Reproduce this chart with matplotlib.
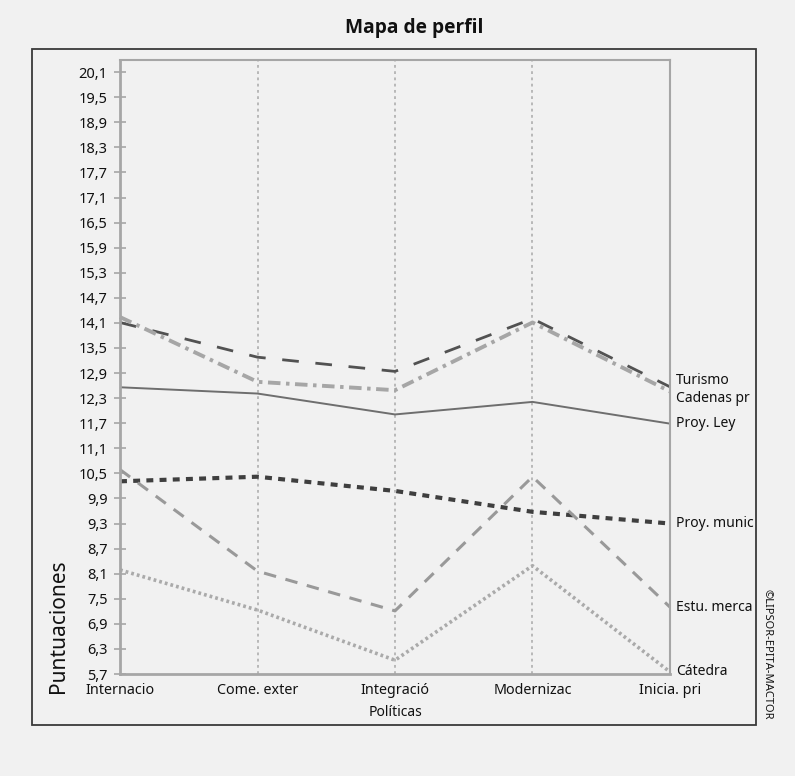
import matplotlib
matplotlib.use("Agg")
import matplotlib.pyplot as plt
from matplotlib.patches import Rectangle
import numpy as np

plt.rcParams['font.family'] = ['Noto Sans', 'DejaVu Sans']
plt.rcParams['lines.scale_dashes'] = False

# ---- data ----
categories = ["Internacio", "Come. exter", "Integració", "Modernizac", "Inicia. pri"]
turismo = [14.11, 13.28, 12.94, 14.20, 12.57]
cadenas = [14.24, 12.69, 12.49, 14.11, 12.46]
proy_ley = [12.56, 12.41, 11.91, 12.21, 11.69]
proy_munic = [10.31, 10.42, 10.08, 9.58, 9.30]
estu_merca = [10.59, 8.16, 7.21, 10.42, 7.30]
catedra = [8.19, 7.23, 6.03, 8.29, 5.75]
series_names = ["Turismo", "Cadenas pr", "Proy. Ley", "Proy. munic", "Estu. merca", "Cátedra"]
ytick_values = [round(5.7 + 0.6 * i, 1) for i in range(25)]
ytick_labels = [f"{v:.1f}".replace(".", ",") for v in ytick_values]

series = [turismo, cadenas, proy_ley, proy_munic, estu_merca, catedra]
styles = [
    dict(color="#525252", lw=2.0, dashes=(12, 12)),
    dict(color="#a6a6a6", lw=2.8, dashes=(9, 4, 2.5, 4)),
    dict(color="#6e6e6e", lw=1.4, linestyle="-"),
    dict(color="#3f3f3f", lw=3.0, dashes=(5, 4.5)),
    dict(color="#999999", lw=2.2, dashes=(9, 7)),
    dict(color="#aaaaaa", lw=2.6, dashes=(2, 2.2)),
]

TXT = "#111111"
W, H = 795, 776
fig = plt.figure(figsize=(W / 100, H / 100), dpi=100)
fig.patch.set_facecolor("#f1f1f1")

# outer frame
fig.patches.append(Rectangle((32 / W, 1 - 725 / H), 724 / W, 676 / H,
                             transform=fig.transFigure, fill=False,
                             edgecolor="#3a3a3a", lw=1.3, zorder=0))

ax = fig.add_axes([120 / W, 1 - 674 / H, 550 / W, 614 / H])
ax.set_facecolor("#f1f1f1")
x = np.arange(len(categories))

for y, st in zip(series, styles):
    ax.plot(x, y, solid_capstyle="butt", dash_capstyle="butt", clip_on=False, **st)

ax.set_xlim(0, len(categories) - 1)
ax.set_ylim(5.7, 20.39)
ax.set_yticks(ytick_values)
ax.set_yticklabels(ytick_labels)
ax.set_xticks(x)
ax.set_xticklabels(categories)
ax.tick_params(axis="y", direction="inout", length=8, width=1.2, color="#a6a6a6",
               labelsize=10.5, labelcolor=TXT, pad=5)
ax.tick_params(axis="x", length=0, labelsize=10.3, labelcolor=TXT, pad=6.5)

for xv in x[1:-1]:
    ax.axvline(xv, color="#a8a8a8", lw=1.1, dashes=(2, 2.5), zorder=0)

for s in ["left", "bottom"]:
    ax.spines[s].set_color("#a6a6a6")
    ax.spines[s].set_linewidth(2)
for s in ["top", "right"]:
    ax.spines[s].set_color("#a6a6a6")
    ax.spines[s].set_linewidth(1.5)

# end labels with simple de-overlap
ends = [s[-1] for s in series]
order = list(np.argsort(ends)[::-1])
min_gap = 0.43
groups = [[i] for i in order]
changed = True
while changed:
    changed = False
    new = [groups[0]]
    for g in groups[1:]:
        prev = new[-1]
        pm = np.mean([ends[i] for i in prev])
        plow = pm - (len(prev) - 1) * min_gap / 2
        cur_top = np.mean([ends[i] for i in g]) + (len(g) - 1) * min_gap / 2
        if plow - cur_top < min_gap:
            new[-1] = prev + g
            changed = True
        else:
            new.append(g)
    groups = new
pos = {}
for g in groups:
    m = np.mean([ends[i] for i in g])
    top = m + (len(g) - 1) * min_gap / 2
    for k, i in enumerate(g):
        pos[i] = top - k * min_gap

for i, name in enumerate(series_names):
    ax.annotate(name, xy=(x[-1], pos[i]), xytext=(4.5, 0), textcoords="offset points",
                va="center", ha="left", fontsize=10, color=TXT, annotation_clip=False)

fig.text(414 / W, 1 - 28 / H, "Mapa de perfil", ha="center", va="center",
         fontsize=13.8, fontweight="bold", color=TXT,
         family=["Open Sans", "Roboto", "DejaVu Sans"])
fig.text(395 / W, 1 - 713 / H, "Políticas", ha="center", va="center",
         fontsize=10, color=TXT)
fig.text(58 / W, 1 - 626 / H, "Puntuaciones", ha="center", va="center",
         rotation=90, fontsize=15, color=TXT)
fig.text(767 / W, 1 - 654 / H, "©LIPSOR-EPITA-MACTOR", ha="center", va="center",
         rotation=270, fontsize=8, color=TXT)

fig.savefig("out.png", dpi=100, facecolor=fig.get_facecolor())
